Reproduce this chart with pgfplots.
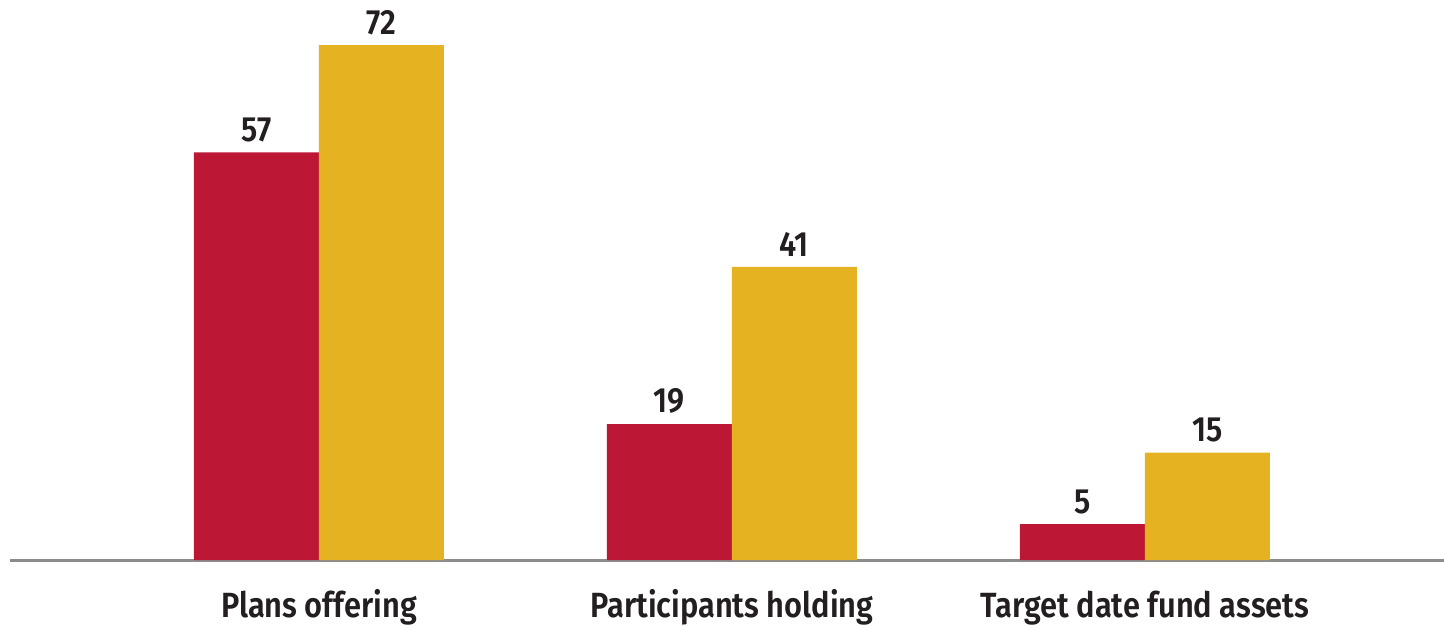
\documentclass[border=0pt]{standalone}
\usepackage{pgfplots}
\pgfplotsset{compat=1.18}
\usepackage{fontspec}
\setmainfont{Fira Sans}[FakeStretch=0.88, BoldFont={Fira Sans SemiBold}]
\definecolor{cred}{HTML}{BC1835}
\definecolor{cgold}{HTML}{E5B222}
\definecolor{ctext}{HTML}{231F20}
\definecolor{cline}{HTML}{8C8C8C}
\begin{document}
\begin{tikzpicture}
\useasboundingbox (-5pt,-33pt) rectangle (717pt,280pt);
\begin{axis}[
  at={(0,0)}, anchor=south west,
  scale only axis, width=717pt, height=280pt,
  xmin=-0.748, xmax=2.724, ymin=0, ymax=78.3,
  ybar=0pt, bar width=62.5pt,
  axis x line*=bottom, axis y line=none,
  x axis line style={cline, line width=1.5pt, -},
  xtick={0,1,2}, major tick length=0pt,
  xticklabels={Plans offering, Participants holding, Target date fund assets},
  xticklabel style={font=\fontsize{17.5}{20}\selectfont\bfseries, text=ctext, anchor=base, yshift=-28.5pt, inner sep=0pt},
  typeset ticklabels with strut,
  ytick=\empty,
  /pgf/number format/assume math mode=true,
  nodes near coords,
  every node near coord/.append style={font=\fontsize{17.5}{20}\selectfont\bfseries, text=ctext, anchor=south, inner sep=0pt, yshift=5pt},
  clip=false,
]
\addplot[fill=cred, draw=none] coordinates {(0,57) (1,19) (2,5)};
\addplot[fill=cgold, draw=none] coordinates {(0,72) (1,41) (2,15)};
\end{axis}
\end{tikzpicture}
\end{document}
